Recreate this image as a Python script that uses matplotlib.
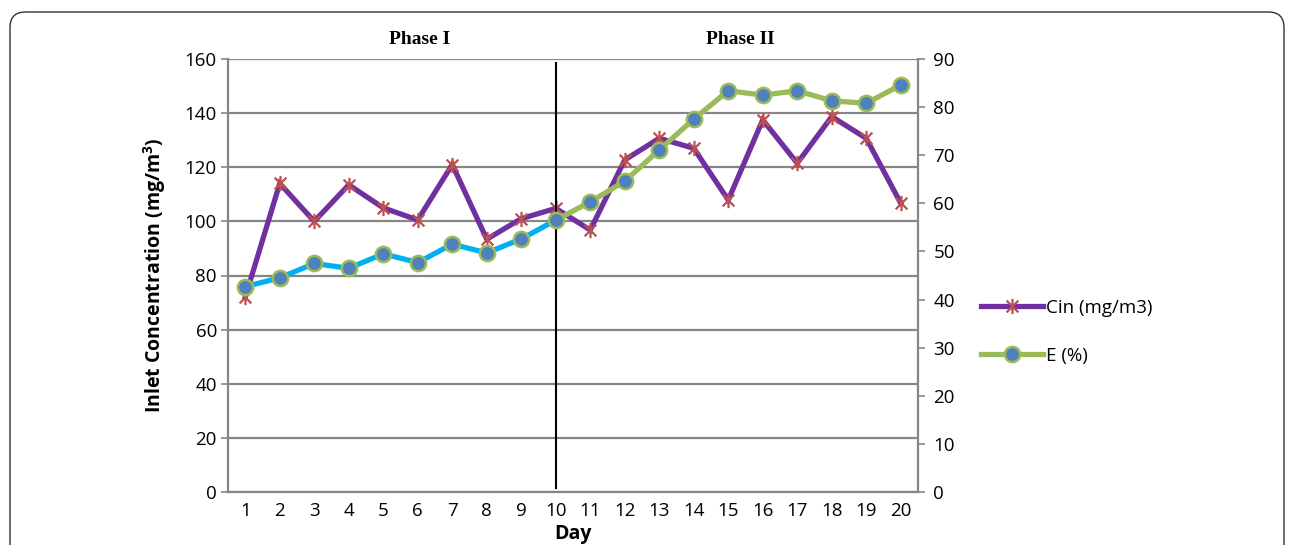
import matplotlib
matplotlib.use("Agg")
import matplotlib.pyplot as plt
from matplotlib.path import Path
from matplotlib.lines import Line2D
from matplotlib.patches import FancyBboxPatch

days = list(range(1, 21))
cin = [72, 114, 100, 113.5, 105, 100.5, 121, 93.4, 101, 104.8,
       96.8, 122.7, 130.7, 127, 107.9, 137.5, 121.5, 138.7, 130.7, 106.7]
eff = [42.7, 44.5, 47.5, 46.5, 49.5, 47.7, 51.5, 49.7, 52.6, 56.5,
       60.3, 64.6, 71.1, 77.5, 83.4, 82.5, 83.4, 81.3, 80.8, 84.6]
phase_boundary = 10
left_ticks = list(range(0, 161, 20))
right_ticks = list(range(0, 91, 10))

purple = "#7030A0"
red = "#C0504D"
green = "#9BBB59"
cyan = "#00B0F0"
blue = "#4F81BD"
grid_c = "#868686"

star = Path([(-1, -1), (1, 1), (-1, 1), (1, -1), (0, -1.3), (0, 1.3)],
            [Path.MOVETO, Path.LINETO, Path.MOVETO, Path.LINETO, Path.MOVETO, Path.LINETO])

plt.rcParams['font.family'] = ['Open Sans', 'DejaVu Sans']

fig = plt.figure(figsize=(12.96, 5.45), dpi=100)
ax = fig.add_axes([228/1296, 1-492/545, (918-228)/1296, (492-59)/545])

# frame
frame = FancyBboxPatch((10/1296, -0.05), 1274/1296, 1.05 - 12/545,
                       boxstyle="round,pad=0,rounding_size=0.012",
                       transform=fig.transFigure, fill=False, ec="#333333", lw=1.0,
                       mutation_aspect=1296/545)
fig.patches.append(frame)

ax.set_xlim(0.5, 20.5)
ax.set_ylim(0, 160)
ax.set_yticks(left_ticks)
ax.set_xticks(days)
ax.yaxis.grid(True, color=grid_c, lw=1.6)
ax.set_axisbelow(True)
for s in ["left", "bottom", "right", "top"]:
    ax.spines[s].set_color(grid_c)
    ax.spines[s].set_linewidth(1.6)
ax.spines["top"].set_visible(False)
ax.tick_params(axis='y', colors=grid_c, labelcolor='black', length=5, width=1.2, labelsize=13.5, pad=3)
ax.tick_params(axis='x', length=0, labelsize=13.5, pad=7)

ax.plot(days, cin, color=purple, lw=3.8, marker=star, ms=11, mec=red, mfc=red, mew=1.6,
        solid_joinstyle='miter', zorder=3)
ax.axvline(phase_boundary, ymin=0.01, ymax=0.99, color='black', lw=1.5, zorder=4)

ax2 = ax.twinx()
ax2.set_ylim(0, 90)
ax2.set_yticks(right_ticks)
for s in ["left", "bottom", "right", "top"]:
    ax2.spines[s].set_visible(False)
ax2.tick_params(axis='y', colors=grid_c, labelcolor='black', length=5, width=1.2, labelsize=13.5, pad=6)

i = days.index(phase_boundary)
ax2.plot(days[:i+1], eff[:i+1], color=cyan, lw=3.8, zorder=2)
ax2.plot(days[i:], eff[i:], color=green, lw=3.8, zorder=2)
ax2.plot(days, eff, ls='none', marker='o', ms=11, mfc=blue, mec=green, mew=1.8, zorder=3)

ax.set_ylabel("Inlet Concentration (mg/m$\\mathregular{^3}$)", fontsize=14, fontweight='bold', labelpad=12)
ax.set_xlabel("Day", fontsize=14, fontweight='bold', labelpad=3)

fig.text(420/1296, 1-40/545, "Phase I", family="Liberation Serif", fontweight='bold',
         fontsize=14, ha='center', va='center')
fig.text(740/1296, 1-40/545, "Phase II", family="Liberation Serif", fontweight='bold',
         fontsize=14, ha='center', va='center')

handles = [Line2D([], [], color=purple, lw=3.8, marker=star, ms=11, mec=red, mfc=red, mew=1.6),
           Line2D([], [], color=green, lw=3.8, marker='o', ms=11, mfc=blue, mec=green, mew=1.8)]
fig.legend(handles, ["Cin (mg/m3)", "E (%)"], loc='center left',
           bbox_to_anchor=(972/1296, 1-332/545), frameon=False, fontsize=13.5,
           handlelength=3.3, handletextpad=0.15, labelspacing=1.6, borderpad=0)

fig.savefig("out.png", dpi=100)
